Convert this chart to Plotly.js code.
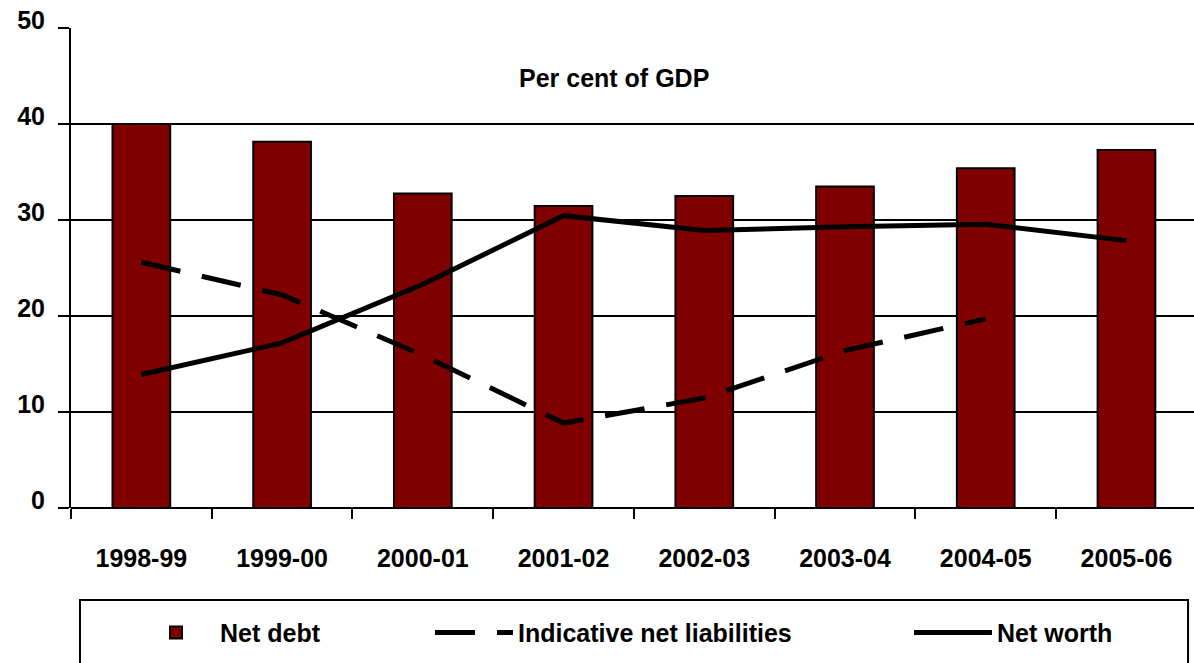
<!DOCTYPE html>
<html>
<head>
<meta charset="utf-8">
<script src="https://cdn.plot.ly/plotly-3.0.1.min.js"></script>
<style>
html,body{margin:0;padding:0;background:#fff;}
#chart{width:1194px;height:663px;}
</style>
</head>
<body>
<div id="chart"></div>
<script>
var categories = ["1998-99","1999-00","2000-01","2001-02","2002-03","2003-04","2004-05","2005-06"];
var netDebt = [40.0, 38.15, 32.75, 31.45, 32.5, 33.5, 35.4, 37.3];
var indicativeNetLiabilities = [25.6, 22.2, 15.9, 8.85, 11.45, 16.4, 19.7, null];
var netWorth = [13.9, 17.2, 23.3, 30.45, 28.9, 29.3, 29.55, 27.85];
var yTicks = [0, 10, 20, 30, 40, 50];

var FONT = "Liberation Sans, Arial, sans-serif";

var traces = [
  {
    type: "bar", name: "Net debt", x: categories, y: netDebt,
    width: 0.41,
    marker: {color: "#800000", line: {color: "#000000", width: 2}},
    legend: "legend", hoverinfo: "x+y"
  },
  {
    type: "scatter", mode: "lines", name: "Indicative net liabilities",
    x: categories, y: indicativeNetLiabilities,
    line: {color: "#000000", width: 5, dash: "40px,22px"},
    connectgaps: false, legend: "legend2"
  },
  {
    type: "scatter", mode: "lines", name: "Net worth",
    x: categories, y: netWorth,
    line: {color: "#000000", width: 5},
    legend: "legend3"
  }
];

var legendCommon = {
  orientation: "h", yanchor: "middle", y: -0.26, xanchor: "left",
  font: {family: FONT, size: 25, color: "#000", weight: "bold"},
  itemwidth: 78, bgcolor: "rgba(0,0,0,0)", borderwidth: 0,
  itemclick: false, itemdoubleclick: false
};

var layout = {
  width: 1194, height: 663,
  margin: {l: 71, r: 0, t: 28, b: 155},
  paper_bgcolor: "#ffffff", plot_bgcolor: "#ffffff",
  showlegend: true,
  legend: Object.assign({}, legendCommon, {x: 0.0543}),
  legend2: Object.assign({}, legendCommon, {x: 0.3197}),
  legend3: Object.assign({}, legendCommon, {x: 0.7462}),
  xaxis: {
    type: "category", range: [-0.5, 7.48],
    showgrid: false, zeroline: false,
    showline: false,
    ticks: "outside", tickson: "boundaries", ticklen: 10, tickwidth: 2, tickcolor: "#000",
    tickfont: {family: FONT, size: 25, color: "#000", weight: "bold"},
    ticklabelstandoff: 33,
    fixedrange: true
  },
  yaxis: {
    range: [0, 50], tickvals: yTicks,
    showgrid: true, gridcolor: "#000", gridwidth: 2,
    zeroline: true, zerolinecolor: "#000", zerolinewidth: 2,
    showline: true, linecolor: "#000", linewidth: 2,
    ticks: "outside", ticklen: 11, tickwidth: 2, tickcolor: "#000",
    tickfont: {family: FONT, size: 25, color: "#000", weight: "bold"},
    ticklabelstandoff: 8,
    ticklabelshift: -8,
    fixedrange: true
  },
  annotations: [
    {
      text: "<b>Per cent of GDP</b>", xref: "paper", yref: "paper",
      x: 0.4835, y: 0.896, xanchor: "center", yanchor: "middle",
      showarrow: false, font: {family: FONT, size: 25, color: "#000"}
    }
  ],
  shapes: [
    {
      type: "rect", xref: "paper", yref: "paper",
      x0: 0.008, x1: 0.9947, y0: -0.33, y1: -0.1917,
      line: {color: "#000", width: 2}, fillcolor: "rgba(0,0,0,0)"
    }
  ]
};

Plotly.newPlot("chart", traces, layout, {displayModeBar: false, staticPlot: true});
</script>
</body>
</html>
